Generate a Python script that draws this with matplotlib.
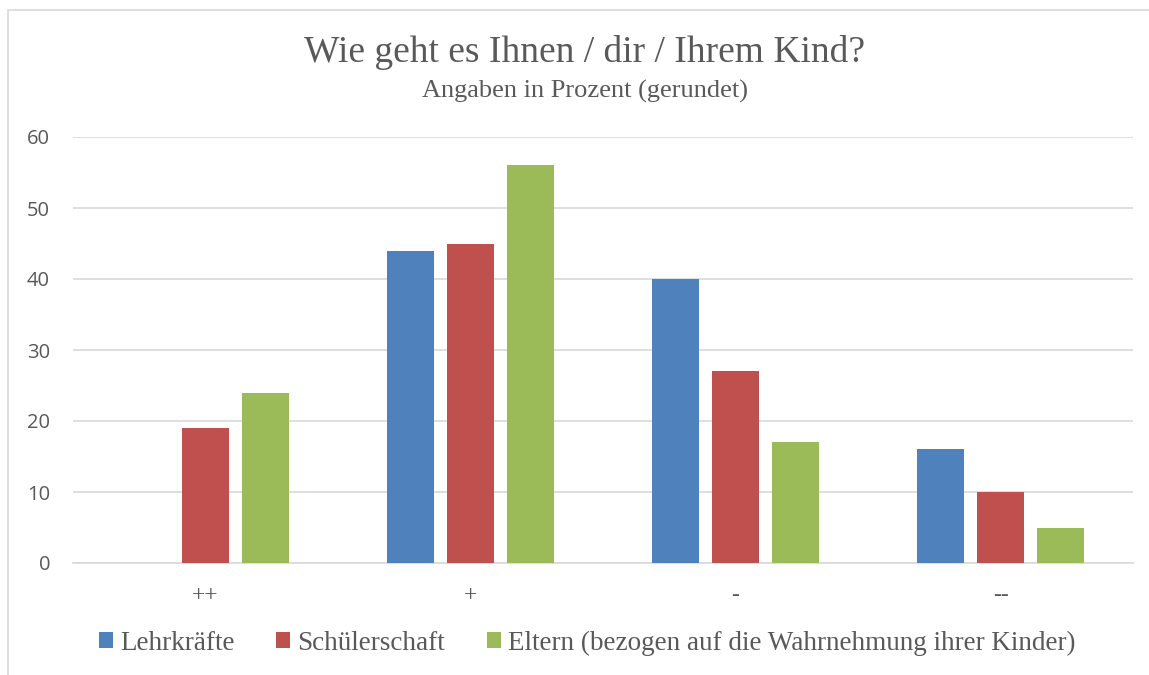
import numpy as np
import matplotlib
matplotlib.use("Agg")
from matplotlib import pyplot as plt
from matplotlib.patches import Rectangle

categories = ["++", "+", "-", "--"]
series_names = ["Lehrkräfte", "Schülerschaft",
                "Eltern (bezogen auf die Wahrnehmung ihrer Kinder)"]
lehrkraefte = [0, 44, 40, 16]
schueler = [19, 45, 27, 10]
eltern = [24, 56, 17, 5]
colors = ["#4F81BD", "#C0504D", "#9BBB59"]

grey = "#595959"
serif = "Liberation Serif"

fig = plt.figure(figsize=(11.49, 6.75), dpi=100)
ax = fig.add_axes([73/1149, 1-563/675, 1060/1149, 426/675])

# chart frame
fig.patches.append(Rectangle((8/1149, -0.1), 1.2, 1-10/675+0.1, transform=fig.transFigure,
                             fill=False, edgecolor="#D9D9D9", linewidth=1.2))

x = np.arange(len(categories))
width = 0.175
offset = 0.226
for i, (vals, name) in enumerate(zip([lehrkraefte, schueler, eltern], series_names)):
    ax.bar(x + (i-1)*offset, vals, width, color=colors[i], label=name, zorder=3)

ax.set_xlim(-0.5, 3.5)
ax.set_ylim(0, 60)
ax.set_yticks(np.arange(0, 61, 10))
ax.yaxis.grid(True, color="#D9D9D9", linewidth=1.2, zorder=0)
for s in ["top", "right", "left"]:
    ax.spines[s].set_visible(False)
ax.spines["bottom"].set_color("#D9D9D9")
ax.spines["bottom"].set_linewidth(1.2)
ax.tick_params(axis="both", length=0)
ax.tick_params(axis="y", labelcolor=grey, labelsize=14.5, pad=16.5)
for lab in ax.get_yticklabels():
    lab.set_fontfamily("Open Sans")
ax.set_xticks(x)
ax.set_xticklabels(categories, fontfamily=serif, fontsize=17, color=grey)
ax.tick_params(axis="x", pad=16)

fig.text(0.509, 1-52/675, "Wie geht es Ihnen / dir / Ihrem Kind?", ha="center", va="center",
         fontfamily=serif, fontsize=27, color=grey)
fig.text(0.509, 1-91/675, "Angaben in Prozent (gerundet)", ha="center", va="center",
         fontfamily=serif, fontsize=19, color=grey)

leg = fig.legend(loc="center", bbox_to_anchor=(0.511, 1-643/675), ncol=3, frameon=False,
                 prop={"family": serif, "size": 19.5}, handlelength=0.52, handleheight=0.52,
                 handletextpad=0.25, columnspacing=1.55)
for t in leg.get_texts():
    t.set_color(grey)

fig.savefig("out.png", dpi=100)
